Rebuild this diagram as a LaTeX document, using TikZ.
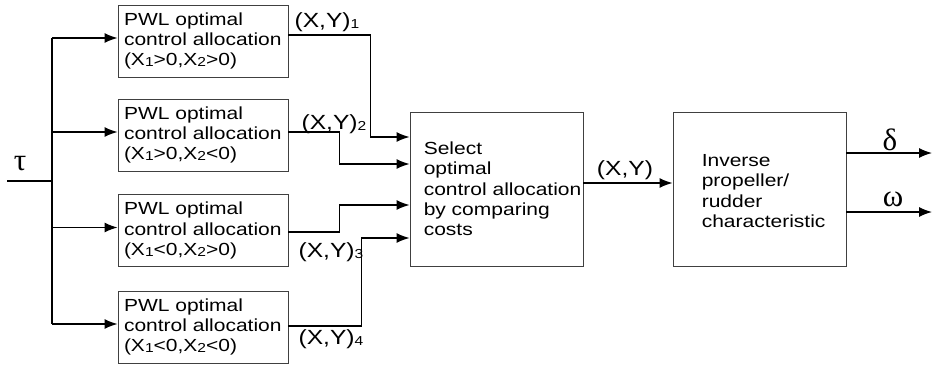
\documentclass[tikz,border=0pt]{standalone}
\usepackage{fontspec}
\setmainfont{Liberation Sans}[FakeStretch=1.2]
\newfontfamily\greekfont{Liberation Serif}
\usetikzlibrary{arrows.meta}
\newcommand{\idx}[1]{\raisebox{-1pt}{\fontsize{13}{13}\selectfont#1}}
\tikzset{
  arr/.style={-{Latex[length=13pt,width=10pt]},line width=1.3pt},
  wire/.style={line width=1.3pt},
  pwlbox/.style={draw=black!75,line width=0.9pt,minimum width=170pt,minimum height=72pt,
    inner xsep=6pt,text width=158pt,align=left},
  bigbox/.style={draw=black!75,line width=0.9pt,minimum width=173pt,minimum height=154pt},
  boxtext/.style={anchor=west,align=left,inner sep=0pt},
  sig/.style={font=\fontsize{20.5}{22}\selectfont},
  grk/.style={font=\greekfont\fontsize{31}{31}\selectfont}
}
\begin{document}
\begin{tikzpicture}[x=1pt,y=-1pt,font=\fontsize{17.5}{20.3}\selectfont]
\useasboundingbox (0,0) rectangle (932,365);
% the four PWL allocators
\node[pwlbox] (b1) at (203,41) {PWL optimal\\control allocation\\(X\idx1>0,X\idx2>0)};
\node[pwlbox] (b2) at (203,135) {PWL optimal\\control allocation\\(X\idx1>0,X\idx2<0)};
\node[pwlbox] (b3) at (203,230.5) {PWL optimal\\control allocation\\(X\idx1<0,X\idx2>0)};
\node[pwlbox] (b4) at (203,327) {PWL optimal\\control allocation\\(X\idx1<0,X\idx2<0)};
% input tau and the bus
\coordinate (tauin) at (7,181);
\coordinate (bus) at (52,181);
\node[grk] (tau) at (20,164) {τ};
\foreach \b in {1,...,4} \coordinate (e\b) at ([yshift=3pt]b\b.west);
\draw[wire] (tauin) -- (bus);
\draw[wire] (bus |- e1) -- (bus |- e4);
\foreach \b in {1,...,4} \draw[arr] (bus |- e\b) -- (e\b);
% selection block
\node[bigbox] (sel) at (496.5,189) {};
\node[boxtext] (seltxt) at ([xshift=14pt]sel.west) {Select\\optimal\\control allocation\\by comparing\\costs};
\coordinate (in1) at ([yshift=52pt]sel.west);
\coordinate (in2) at ([yshift=25pt]sel.west);
\coordinate (in3) at ([yshift=-16pt]sel.west);
\coordinate (in4) at ([yshift=-49pt]sel.west);
\draw[arr] ([yshift=6pt]b1.east) -| ([xshift=-39pt]in1) -- (in1);
\draw[arr] ([yshift=3pt]b2.east) -| ([xshift=-70pt]in2) -- (in2);
\draw[arr] ([yshift=-1.5pt]b3.east) -| ([xshift=-70pt]in3) -- (in3);
\draw[arr] ([yshift=1pt]b4.east) -| ([xshift=-48pt]in4) -- (in4);
\node[sig] (xy1) at (327,22) {(X,Y)\idx1};
\node[sig] (xy2) at (334,124) {(X,Y)\idx2};
\node[sig] (xy3) at (331,252) {(X,Y)\idx3};
\node[sig] (xy4) at (331,339) {(X,Y)\idx4};
% inverse characteristic
\node[bigbox] (inv) at (759.5,189) {};
\node[boxtext] (invtxt) at ([xshift=29pt,yshift=-2pt]inv.west) {Inverse\\propeller/\\rudder\\characteristic};
\draw[arr] ([yshift=6pt]sel.east) -- ([yshift=6pt]inv.west);
\node[sig] (xy) at (625,170) {(X,Y)};
% outputs
\coordinate (dout) at (932,153);
\coordinate (wout) at (932,212);
\draw[arr] (inv.east |- dout) -- (dout);
\draw[arr] (inv.east |- wout) -- (wout);
\node[grk] (delta) at (890,140) {δ};
\node[grk] (omega) at (893,199) {ω};
\end{tikzpicture}
\end{document}
